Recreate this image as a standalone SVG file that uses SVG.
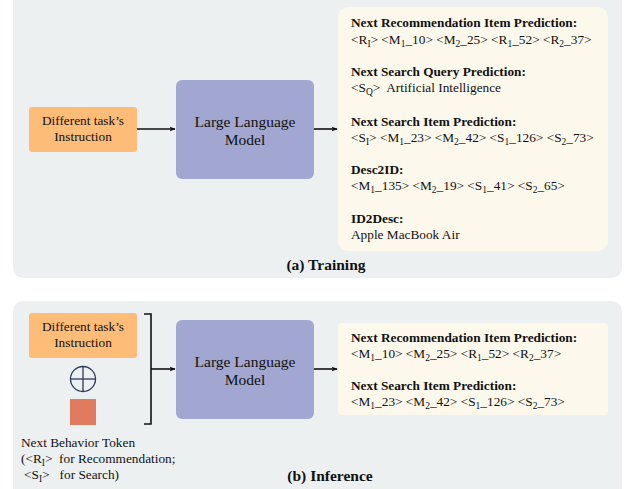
<svg xmlns="http://www.w3.org/2000/svg" width="628" height="489" viewBox="0 0 628 489" font-family="'Liberation Serif', 'DejaVu Serif', serif">
<style>
text{font-family:"Liberation Serif","DejaVu Serif",serif;fill:#111;}
.t{font-size:13.3px;}
.b{font-size:13.3px;font-weight:bold;}
.s{font-size:9.5px;}
.llm{font-size:15.5px;}
.ins{font-size:13.3px;}
.cap{font-size:15.5px;font-weight:bold;}
.pre{white-space:pre;}
.panel{fill:#EDF0F1;}
.cream{fill:#FDF8EC;}
.orange{fill:#FEBC79;}
.llmbox{fill:#A2A7D2;}
.line{stroke:#111;stroke-width:1.6;fill:none;}
</style>
<defs>
<marker id="ah" viewBox="0 0 10 10" refX="9" refY="5" markerWidth="6" markerHeight="6" markerUnits="userSpaceOnUse" orient="auto">
<path d="M0,1 L10,5 L0,9 L2.5,5 Z" fill="#111"/>
</marker>
</defs>
<g id="panel-a">
<rect class="panel" x="13" y="-10" width="609" height="288" rx="10"/>
<text class="cap" x="326" y="270" text-anchor="middle">(a) Training</text>
</g>
<g id="panel-b">
<rect class="panel" x="13" y="301" width="609" height="198" rx="10"/>
<text class="cap" x="330" y="481" text-anchor="middle">(b) Inference</text>
</g>
<g id="instr-a">
<rect class="orange" x="29" y="107" width="108" height="45" rx="3"/>
<text class="ins" x="83" y="125" text-anchor="middle">Different task’s</text>
<text class="ins" x="83" y="141" text-anchor="middle">Instruction</text>
</g>
<g id="llm-a">
<rect class="llmbox" x="176" y="80" width="138" height="99" rx="6"/>
<text class="llm" x="245" y="127" text-anchor="middle">Large Language</text>
<text class="llm" x="245" y="145" text-anchor="middle">Model</text>
</g>
<g id="out-a">
<rect class="cream" x="338" y="7" width="270" height="244" rx="10"/>
<text class="b" x="351" y="27">Next Recommendation Item Prediction:</text>
<text class="t" x="351" y="44">&lt;R<tspan class="s" dy="2.5">I</tspan><tspan dy="-2.5">&gt; &lt;M</tspan><tspan class="s" dy="2.5">1</tspan><tspan dy="-2.5">_10&gt; &lt;M</tspan><tspan class="s" dy="2.5">2</tspan><tspan dy="-2.5">_25&gt; &lt;R</tspan><tspan class="s" dy="2.5">1</tspan><tspan dy="-2.5">_52&gt; &lt;R</tspan><tspan class="s" dy="2.5">2</tspan><tspan dy="-2.5">_37&gt;</tspan></text>
<text class="b" x="351" y="76">Next Search Query Prediction:</text>
<text class="t pre" x="351" y="92">&lt;S<tspan class="s" dy="2.5">Q</tspan><tspan dy="-2.5">&gt;  Artificial Intelligence</tspan></text>
<text class="b" x="351" y="126">Next Search Item Prediction:</text>
<text class="t" x="351" y="142">&lt;S<tspan class="s" dy="2.5">I</tspan><tspan dy="-2.5">&gt; &lt;M</tspan><tspan class="s" dy="2.5">1</tspan><tspan dy="-2.5">_23&gt; &lt;M</tspan><tspan class="s" dy="2.5">2</tspan><tspan dy="-2.5">_42&gt; &lt;S</tspan><tspan class="s" dy="2.5">1</tspan><tspan dy="-2.5">_126&gt; &lt;S</tspan><tspan class="s" dy="2.5">2</tspan><tspan dy="-2.5">_73&gt;</tspan></text>
<text class="b" x="351" y="174">Desc2ID:</text>
<text class="t" x="351" y="190">&lt;M<tspan class="s" dy="2.5">1</tspan><tspan dy="-2.5">_135&gt; &lt;M</tspan><tspan class="s" dy="2.5">2</tspan><tspan dy="-2.5">_19&gt; &lt;S</tspan><tspan class="s" dy="2.5">1</tspan><tspan dy="-2.5">_41&gt; &lt;S</tspan><tspan class="s" dy="2.5">2</tspan><tspan dy="-2.5">_65&gt;</tspan></text>
<text class="b" x="351" y="223">ID2Desc:</text>
<text class="t" x="351" y="239">Apple MacBook Air</text>
</g>
<g id="instr-b">
<rect class="orange" x="29" y="313" width="108" height="45" rx="3"/>
<text class="ins" x="83" y="331" text-anchor="middle">Different task’s</text>
<text class="ins" x="83" y="347" text-anchor="middle">Instruction</text>
</g>
<g id="plus">
<circle cx="83" cy="379" r="12.5" fill="none" stroke="#2B3A5C" stroke-width="1.3"/>
<line x1="70.5" y1="379" x2="95.5" y2="379" stroke="#2B3A5C" stroke-width="1.3"/>
<line x1="83" y1="366.5" x2="83" y2="391.5" stroke="#2B3A5C" stroke-width="1.3"/>
</g>
<g id="token">
<rect x="70" y="399" width="26" height="26" fill="#E07B5F"/>
<text class="t" x="21" y="447">Next Behavior Token</text>
<text class="t pre" x="21" y="463">(&lt;R<tspan class="s" dy="2.5">I</tspan><tspan dy="-2.5">&gt;  for Recommendation;</tspan></text>
<text class="t pre" x="24" y="479">&lt;S<tspan class="s" dy="2.5">I</tspan><tspan dy="-2.5">&gt;   for Search)</tspan></text>
</g>
<g id="llm-b">
<rect class="llmbox" x="176" y="320" width="138" height="99" rx="6"/>
<text class="llm" x="245" y="367" text-anchor="middle">Large Language</text>
<text class="llm" x="245" y="385" text-anchor="middle">Model</text>
</g>
<g id="out-b">
<rect class="cream" x="338" y="323" width="270" height="92" rx="4"/>
<text class="b" x="351" y="342">Next Recommendation Item Prediction:</text>
<text class="t" x="351" y="358">&lt;M<tspan class="s" dy="2.5">1</tspan><tspan dy="-2.5">_10&gt; &lt;M</tspan><tspan class="s" dy="2.5">2</tspan><tspan dy="-2.5">_25&gt; &lt;R</tspan><tspan class="s" dy="2.5">1</tspan><tspan dy="-2.5">_52&gt; &lt;R</tspan><tspan class="s" dy="2.5">2</tspan><tspan dy="-2.5">_37&gt;</tspan></text>
<text class="b" x="351" y="390">Next Search Item Prediction:</text>
<text class="t" x="351" y="406">&lt;M<tspan class="s" dy="2.5">1</tspan><tspan dy="-2.5">_23&gt; &lt;M</tspan><tspan class="s" dy="2.5">2</tspan><tspan dy="-2.5">_42&gt; &lt;S</tspan><tspan class="s" dy="2.5">1</tspan><tspan dy="-2.5">_126&gt; &lt;S</tspan><tspan class="s" dy="2.5">2</tspan><tspan dy="-2.5">_73&gt;</tspan></text>
</g>
<g id="connectors">
<line class="line" x1="137" y1="129" x2="175" y2="129" marker-end="url(#ah)"/>
<line class="line" x1="314" y1="129" x2="337" y2="129" marker-end="url(#ah)"/>
<path class="line" d="M144,314 H151 V424 H144"/>
<line class="line" x1="151" y1="369" x2="175" y2="369" marker-end="url(#ah)"/>
<line class="line" x1="314" y1="369" x2="337" y2="369" marker-end="url(#ah)"/>
</g>
</svg>
